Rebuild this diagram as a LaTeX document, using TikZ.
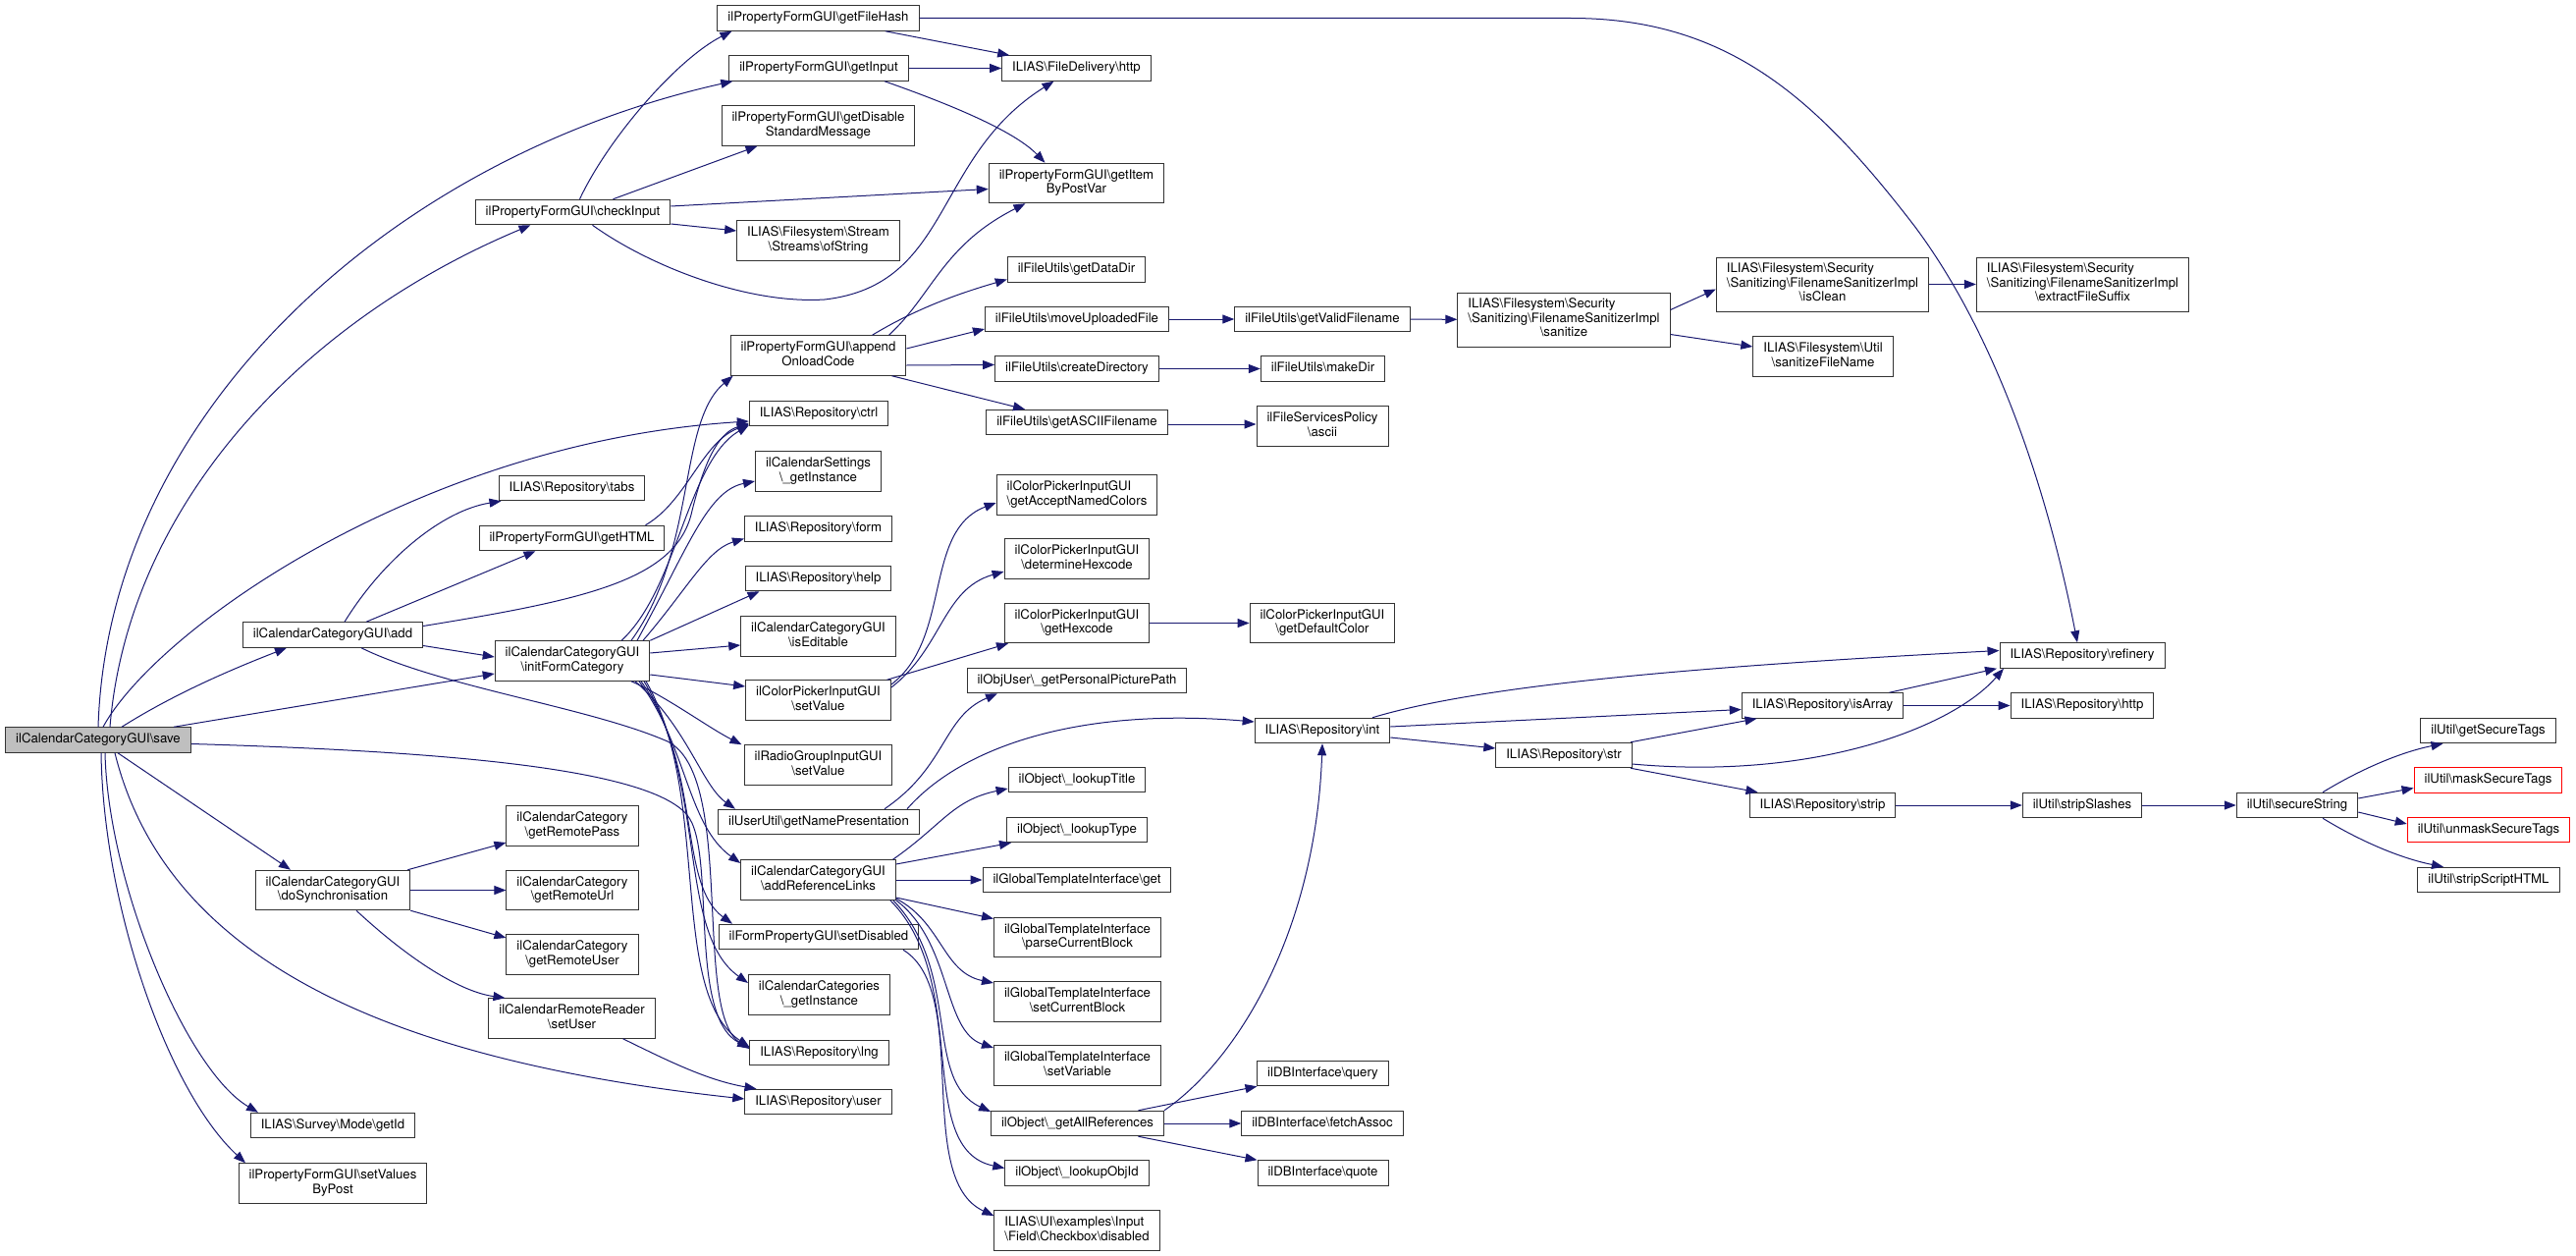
\documentclass[tikz,border=0pt]{standalone}
\usepackage{fontspec}
\setmainfont{TeX Gyre Heros}
\usepackage{tikz}
\usetikzlibrary{arrows.meta}
\definecolor{edgeblue}{RGB}{25,25,112}
\definecolor{rootgray}{RGB}{191,191,191}
\newcommand{\bsl}{\textbackslash}
\newcommand{\fnsize}{\fontsize{13.2}{14.5}\selectfont}
\newcommand{\lns}[2]{\begin{tabular}{@{}l@{}}#1\\\multicolumn{1}{@{}c@{}}{#2}\end{tabular}}

\begin{document}
\begin{tikzpicture}[
  x=1pt, y=-1pt,
  fnbox/.style={rectangle, draw=black!80, line width=1pt, fill=white, inner xsep=10.5pt, inner ysep=1pt, font=\fnsize},
  fn/.style={fnbox, minimum height=25.5pt, text height=9.6pt, text depth=2.9pt},
  fn2/.style={fnbox, minimum height=40.5pt},
  fn3/.style={fnbox, minimum height=55pt},
  root/.style={fill=rootgray},
  missing/.style={draw=red},
  call/.style={-{Triangle[length=12pt, width=9pt]}, line width=1pt, edgeblue}
]
  \useasboundingbox (0,0) rectangle (2624,1279);

  \node[fn, root] (save) at (100,753.5) {ilCalendarCategoryGUI\bsl save};

  \node[fn] (checkin) at (583.5,216) {ilPropertyFormGUI\bsl checkInput};
  \node[fn] (tabs) at (582.5,497) {ILIAS\bsl Repository\bsl tabs};
  \node[fn] (gethtml) at (582.5,548) {ilPropertyFormGUI\bsl getHTML};
  \node[fn] (add) at (339,646.5) {ilCalendarCategoryGUI\bsl add};
  \node[fn2] (initform) at (583,673) {\lns{ilCalendarCategoryGUI}{\bsl initFormCategory}};
  \node[fn2] (rpass) at (583,841) {\lns{ilCalendarCategory}{\bsl getRemotePass}};
  \node[fn2] (dosync) at (339,906.5) {\lns{ilCalendarCategoryGUI}{\bsl doSynchronisation}};
  \node[fn2] (rurl) at (583,906.5) {\lns{ilCalendarCategory}{\bsl getRemoteUrl}};
  \node[fn2] (ruser) at (583,972) {\lns{ilCalendarCategory}{\bsl getRemoteUser}};
  \node[fn2] (setuser) at (582.5,1037) {\lns{ilCalendarRemoteReader}{\bsl setUser}};
  \node[fn] (getid) at (339,1146) {ILIAS\bsl Survey\bsl Mode\bsl getId};
  \node[fn2] (valpost) at (339,1205) {\lns{ilPropertyFormGUI\bsl setValues}{ByPost}};

  \node[fn] (filehash) at (833.5,18.5) {ilPropertyFormGUI\bsl getFileHash};
  \node[fn] (getinput) at (834,69.5) {ilPropertyFormGUI\bsl getInput};
  \node[fn2] (disablemsg) at (833.5,128) {\lns{ilPropertyFormGUI\bsl getDisable}{StandardMessage}};
  \node[fn2] (ofstring) at (833.5,245) {\lns{ILIAS\bsl Filesystem\bsl Stream}{\bsl Streams\bsl ofString}};
  \node[fn2] (onload) at (833.5,362) {\lns{ilPropertyFormGUI\bsl append}{OnloadCode}};
  \node[fn] (ctrl) at (834,421) {ILIAS\bsl Repository\bsl ctrl};
  \node[fn2] (calset) at (833.5,480) {\lns{ilCalendarSettings}{\bsl\_getInstance}};
  \node[fn] (form) at (833.5,538.5) {ILIAS\bsl Repository\bsl form};
  \node[fn] (help) at (833.5,589) {ILIAS\bsl Repository\bsl help};
  \node[fn2] (editable) at (833.5,648) {\lns{ilCalendarCategoryGUI}{\bsl isEditable}};
  \node[fn2] (cpset) at (833.5,713) {\lns{ilColorPickerInputGUI}{\bsl setValue}};
  \node[fn2] (rgset) at (833.5,779) {\lns{ilRadioGroupInputGUI}{\bsl setValue}};
  \node[fn] (namepres) at (834,837) {ilUserUtil\bsl getNamePresentation};
  \node[fn2] (reflinks) at (833.5,896) {\lns{ilCalendarCategoryGUI}{\bsl addReferenceLinks}};
  \node[fn] (setdis) at (834,954) {ilFormPropertyGUI\bsl setDisabled};
  \node[fn2] (calcats) at (834.5,1013) {\lns{ilCalendarCategories}{\bsl\_getInstance}};
  \node[fn] (lng) at (834.5,1072) {ILIAS\bsl Repository\bsl lng};
  \node[fn] (user) at (833.5,1122) {ILIAS\bsl Repository\bsl user};

  \node[fn] (fdhttp) at (1096.5,69.5) {ILIAS\bsl FileDelivery\bsl http};
  \node[fn2] (itempost) at (1096.5,186.5) {\lns{ilPropertyFormGUI\bsl getItem}{ByPostVar}};
  \node[fn] (datadir) at (1096.5,274.5) {ilFileUtils\bsl getDataDir};
  \node[fn] (moveup) at (1097,325) {ilFileUtils\bsl moveUploadedFile};
  \node[fn] (createdir) at (1097,375.5) {ilFileUtils\bsl createDirectory};
  \node[fn] (asciifn) at (1097,430) {ilFileUtils\bsl getASCIIFilename};
  \node[fn2] (namedcol) at (1097,504) {\lns{ilColorPickerInputGUI}{\bsl getAcceptNamedColors}};
  \node[fn2] (dethex) at (1097,569) {\lns{ilColorPickerInputGUI}{\bsl determineHexcode}};
  \node[fn2] (gethex) at (1097,634.5) {\lns{ilColorPickerInputGUI}{\bsl getHexcode}};
  \node[fn] (picpath) at (1097,693) {ilObjUser\bsl\_getPersonalPicturePath};
  \node[fn] (lktitle) at (1097,794) {ilObject\bsl\_lookupTitle};
  \node[fn] (lktype) at (1097,845) {ilObject\bsl\_lookupType};
  \node[fn] (gtiget) at (1097,896) {ilGlobalTemplateInterface\bsl get};
  \node[fn2] (parseblk) at (1097.5,954.5) {\lns{ilGlobalTemplateInterface}{\bsl parseCurrentBlock}};
  \node[fn2] (setblk) at (1097.5,1020) {\lns{ilGlobalTemplateInterface}{\bsl setCurrentBlock}};
  \node[fn2] (setvar) at (1097.5,1085) {\lns{ilGlobalTemplateInterface}{\bsl setVariable}};
  \node[fn] (allrefs) at (1097.5,1144) {ilObject\bsl\_getAllReferences};
  \node[fn] (lkobjid) at (1097,1194.5) {ilObject\bsl\_lookupObjId};
  \node[fn2] (cbdis) at (1097,1253) {\lns{ILIAS\bsl UI\bsl examples\bsl Input}{\bsl Field\bsl Checkbox\bsl disabled}};

  \node[fn] (validfn) at (1347,325) {ilFileUtils\bsl getValidFilename};
  \node[fn] (makedir) at (1347.5,375.5) {ilFileUtils\bsl makeDir};
  \node[fn2] (ascii) at (1347,434) {\lns{ilFileServicesPolicy}{\bsl ascii}};
  \node[fn2] (defcolor) at (1347,634.5) {\lns{ilColorPickerInputGUI}{\bsl getDefaultColor}};
  \node[fn] (repint) at (1347,744) {ILIAS\bsl Repository\bsl int};
  \node[fn] (dbquery) at (1347.5,1093) {ilDBInterface\bsl query};
  \node[fn] (dbfetch) at (1347,1144) {ilDBInterface\bsl fetchAssoc};
  \node[fn] (dbquote) at (1347.5,1194.5) {ilDBInterface\bsl quote};

  \node[fn3] (sanitize) at (1593,325.5) {\lns{ILIAS\bsl Filesystem\bsl Security\\\bsl Sanitizing\bsl FilenameSanitizerImpl}{\bsl sanitize}};
  \node[fn] (repstr) at (1593,769) {ILIAS\bsl Repository\bsl str};
  \node[fn3] (isclean) at (1856.5,289.5) {\lns{ILIAS\bsl Filesystem\bsl Security\\\bsl Sanitizing\bsl FilenameSanitizerImpl}{\bsl isClean}};
  \node[fn2] (sanfn) at (1857,363) {\lns{ILIAS\bsl Filesystem\bsl Util}{\bsl sanitizeFileName}};
  \node[fn] (isarray) at (1856.5,718.5) {ILIAS\bsl Repository\bsl isArray};
  \node[fn] (repstrip) at (1856.5,820) {ILIAS\bsl Repository\bsl strip};
  \node[fn3] (suffix) at (2121.5,289.5) {\lns{ILIAS\bsl Filesystem\bsl Security\\\bsl Sanitizing\bsl FilenameSanitizerImpl}{\bsl extractFileSuffix}};
  \node[fn] (refinery) at (2121,667.5) {ILIAS\bsl Repository\bsl refinery};
  \node[fn] (rephttp) at (2121,718.5) {ILIAS\bsl Repository\bsl http};
  \node[fn] (slashes) at (2121,820) {ilUtil\bsl stripSlashes};
  \node[fn] (secstr) at (2340,820) {ilUtil\bsl secureString};
  \node[fn] (sectags) at (2534.5,744) {ilUtil\bsl getSecureTags};
  \node[fn, missing] (masktags) at (2534.5,794.5) {ilUtil\bsl maskSecureTags};
  \node[fn, missing] (unmasktags) at (2535,845) {ilUtil\bsl unmaskSecureTags};
  \node[fn] (scripthtml) at (2535,896) {ilUtil\bsl stripScriptHTML};

  \draw[call] ([xshift=12pt]save.north) .. controls (130,520) and (300,330) .. ([xshift=-43pt]checkin.south);
  \draw[call] (save.north) .. controls (110,420) and (400,160) .. ([xshift=4pt]getinput.south west);
  \draw[call] ([xshift=5pt]save.north) .. controls (160,640) and (430,450) .. ([yshift=-8pt]ctrl.west);
  \draw[call] ([xshift=24pt]save.north) .. controls (180,705) and (240,680) .. ([xshift=-47pt]add.south);
  \draw[call] ([xshift=77pt]save.north) -- ([yshift=-13pt]initform.west);
  \draw[call] ([yshift=-4pt]save.east) .. controls (450,765) and (660,782) .. (700,830) .. controls (730,866) and (700,1035) .. ([yshift=5pt]lng.west);
  \draw[call] ([xshift=17pt]save.south) .. controls (170,980) and (400,1080) .. ([yshift=3pt]user.west);
  \draw[call] ([xshift=20pt]save.south) -- ([xshift=-43pt]dosync.north);
  \draw[call] ([xshift=7pt]save.south) .. controls (110,900) and (190,1090) .. ([xshift=-76pt]getid.north);
  \draw[call] ([xshift=3pt]save.south) .. controls (105,920) and (170,1110) .. ([xshift=-89pt]valpost.north);

  \draw[call] ([xshift=7pt]checkin.north) .. controls (620,140) and (690,60) .. ([xshift=15pt]filehash.south west);
  \draw[call] ([xshift=41pt]checkin.north) -- ([xshift=-62pt]disablemsg.south);
  \draw[call] ([yshift=6pt]checkin.east) -- ([yshift=-6pt]itempost.west);
  \draw[call] ([yshift=-12pt]checkin.east) -- ([yshift=10pt]ofstring.west);
  \draw[call] ([xshift=20pt]checkin.south) .. controls (660,270) and (760,310) .. (840,305) .. controls (970,290) and (950,160) .. ([xshift=-23pt]fdhttp.south);

  \draw[call] (getinput) -- (fdhttp);
  \draw[call] ([xshift=67pt]getinput.south) .. controls (950,100) and (1030,130) .. ([xshift=-32pt]itempost.north);
  \draw[call] (filehash) -- (fdhttp);
  \draw[call] (filehash.east) -- (1600,18.5) .. controls (1760,18.5) and (1850,100) .. (1950,230) .. controls (2040,350) and (2090,520) .. ([xshift=-5pt]refinery.north);

  \draw[call] ([xshift=12pt]add.north) .. controls (390,570) and (450,520) .. ([xshift=-72pt]tabs.south);
  \draw[call] ([xshift=34pt]add.north) -- ([xshift=-37pt]gethtml.south);
  \draw[call] ([yshift=9pt]add.east) .. controls (600,610) and (690,590) .. (705,520) .. controls (720,460) and (735,440) .. ([yshift=-10pt]ctrl.west);
  \draw[call] ([yshift=-11pt]add.east) -- ([yshift=4pt]initform.west);
  \draw[call] ([xshift=29pt]add.south) .. controls (450,700) and (600,720) .. (680,755) .. controls (750,790) and (705,1030) .. ([yshift=4pt]lng.west);
  \draw[call] ([xshift=75pt]gethtml.north) .. controls (700,510) and (715,450) .. ([yshift=-11pt]ctrl.west);

  \draw[call] ([xshift=50pt]initform.north) .. controls (690,600) and (700,470) .. ([yshift=-12pt]ctrl.west);
  \draw[call] ([xshift=60pt]initform.north) .. controls (710,560) and (690,430) .. ([xshift=3pt]onload.south west);
  \draw[call] ([xshift=66pt]initform.north) .. controls (700,560) and (720,500) .. ([yshift=-10pt]calset.west);
  \draw[call] ([xshift=72pt]initform.north) .. controls (700,600) and (720,560) .. ([yshift=-10pt]form.west);
  \draw[call] (initform.north east) -- ([xshift=-60pt]help.south);
  \draw[call] ([yshift=8pt]initform.east) -- ([yshift=-9pt]editable.west);
  \draw[call] ([yshift=-14pt]initform.east) -- ([yshift=14pt]cpset.west);
  \draw[call] ([xshift=60pt]initform.south) .. controls (680,710) and (720,740) .. ([xshift=-78pt]rgset.north);
  \draw[call] ([xshift=64pt]initform.south) .. controls (700,740) and (715,800) .. ([xshift=-85pt]namepres.north);
  \draw[call] ([xshift=68pt]initform.south) .. controls (700,760) and (700,840) .. ([yshift=17pt]reflinks.west);
  \draw[call] ([xshift=70pt]initform.south) .. controls (715,780) and (690,900) .. ([xshift=-88pt]setdis.north);
  \draw[call] ([xshift=73pt]initform.south) .. controls (720,800) and (690,950) .. ([yshift=12pt]calcats.west);
  \draw[call] ([xshift=75pt]initform.south) .. controls (725,810) and (680,1010) .. ([yshift=6pt]lng.west);

  \draw[call] ([xshift=-3pt]dosync.north east) -- ([yshift=-17pt]rpass.west);
  \draw[call] (dosync.east) -- (rurl.west);
  \draw[call] (dosync.south east) -- ([yshift=17pt]ruser.west);
  \draw[call] ([xshift=24pt]dosync.south) .. controls (420,980) and (470,1010) .. ([xshift=-68pt]setuser.north);
  \draw[call] ([xshift=52pt]setuser.south) .. controls (680,1080) and (720,1100) .. ([xshift=-63pt]user.north);

  \draw[call] ([xshift=55pt]onload.north) .. controls (940,310) and (990,295) .. ([yshift=-10pt]datadir.west);
  \draw[call] ([xshift=72pt]onload.north) .. controls (950,300) and (960,250) .. ([xshift=-52pt]itempost.south);
  \draw[call] ([yshift=7pt]onload.east) -- ([yshift=-10pt]moveup.west);
  \draw[call] ([yshift=-10pt]onload.east) -- ([yshift=4pt]createdir.west);
  \draw[call] ([xshift=75pt]onload.south) -- ([xshift=-53pt]asciifn.north);
  \draw[call] (moveup) -- (validfn);
  \draw[call] (createdir) -- (makedir);
  \draw[call] ([yshift=-2pt]asciifn.east) -- ([yshift=2pt]ascii.west);
  \draw[call] (validfn) -- (sanitize);
  \draw[call] ([yshift=10pt]sanitize.east) -- ([yshift=-5pt]isclean.west);
  \draw[call] ([yshift=-15pt]sanitize.east) -- ([yshift=10pt]sanfn.west);
  \draw[call] (isclean) -- (suffix);

  \draw[call] ([yshift=16pt]cpset.east) .. controls (970,650) and (940,540) .. ([yshift=-8pt]namedcol.west);
  \draw[call] ([yshift=13pt]cpset.east) .. controls (960,660) and (960,600) .. ([yshift=-13pt]dethex.west);
  \draw[call] ([xshift=70pt]cpset.north) -- ([xshift=-70pt]gethex.south);
  \draw[call] (gethex) -- (defcolor);
  \draw[call] ([xshift=67pt]namepres.north) .. controls (965,780) and (960,730) .. ([xshift=-81pt]picpath.south);
  \draw[call] ([xshift=90pt]namepres.north) .. controls (980,760) and (1100,720) .. ([yshift=9pt]repint.west);

  \draw[call] ([xshift=76pt]reflinks.north) .. controls (960,840) and (970,815) .. ([yshift=-9pt]lktitle.west);
  \draw[call] ([yshift=16pt]reflinks.east) -- ([xshift=-67pt]lktype.south);
  \draw[call] (reflinks.east) -- (gtiget.west);
  \draw[call] ([yshift=-18pt]reflinks.east) -- ([yshift=19pt]parseblk.west);
  \draw[call] ([yshift=-19pt]reflinks.east) .. controls (960,940) and (960,990) .. ([yshift=19pt]setblk.west);
  \draw[call] (reflinks.south east) .. controls (970,960) and (960,1050) .. ([yshift=18pt]setvar.west);
  \draw[call] ([xshift=-3pt]reflinks.south east) .. controls (980,990) and (940,1100) .. ([yshift=12pt]allrefs.west);
  \draw[call] ([xshift=-6pt]reflinks.south east) .. controls (990,1000) and (930,1170) .. ([yshift=5pt]lkobjid.west);
  \draw[call] ([xshift=86pt]setdis.south) .. controls (990,1010) and (930,1200) .. ([yshift=15pt]cbdis.west);

  \draw[call] ([xshift=62pt]allrefs.north) -- ([xshift=-67pt]dbquery.south);
  \draw[call] (allrefs) -- (dbfetch);
  \draw[call] ([xshift=62pt]allrefs.south) -- ([xshift=-67pt]dbquote.north);
  \draw[call] (allrefs.north east) .. controls (1260,1080) and (1340,950) .. (repint.south);

  \draw[call] ([xshift=51pt]repint.north) .. controls (1500,700) and (1700,680) .. ([yshift=5pt]refinery.west);
  \draw[call] ([yshift=4pt]repint.east) -- ([yshift=-4pt]isarray.west);
  \draw[call] ([yshift=-7pt]repint.east) -- ([yshift=7pt]repstr.west);
  \draw[call] ([xshift=68pt]repstr.north) -- ([xshift=-67pt]isarray.south);
  \draw[call] ([yshift=-9pt]repstr.east) .. controls (1850,795) and (1990,740) .. ([xshift=-80pt]refinery.south);
  \draw[call] ([xshift=68pt]repstr.south) -- ([xshift=-66pt]repstrip.north);
  \draw[call] ([xshift=68pt]isarray.north) -- ([xshift=-87pt]refinery.south);
  \draw[call] (isarray) -- (rephttp);
  \draw[call] (repstrip) -- (slashes);
  \draw[call] (slashes) -- (secstr);
  \draw[call] ([xshift=26pt]secstr.north) .. controls (2410,780) and (2450,765) .. ([xshift=-46pt]sectags.south);
  \draw[call] ([yshift=7pt]secstr.east) -- ([yshift=-8pt]masktags.west);
  \draw[call] ([yshift=-7pt]secstr.east) -- ([yshift=6pt]unmasktags.west);
  \draw[call] ([xshift=26pt]secstr.south) .. controls (2410,860) and (2450,875) .. ([xshift=-46pt]scripthtml.north);
\end{tikzpicture}
\end{document}
